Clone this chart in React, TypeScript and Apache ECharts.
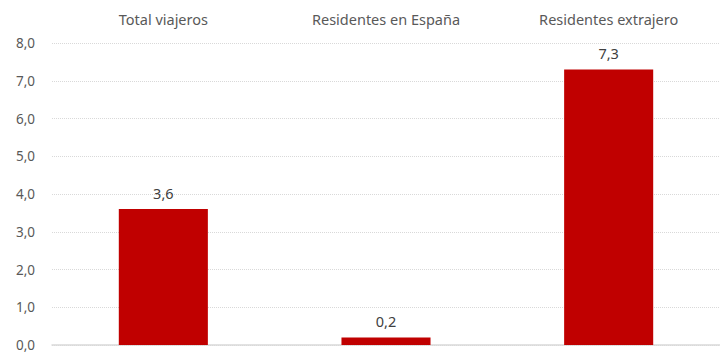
import React, { useEffect, useRef } from "react";
import * as echarts from "echarts";

const categories = ["Total viajeros", "Residentes en España", "Residentes extrajero"];
const values = [3.6, 0.2, 7.3];
const yTicks = { min: 0, max: 8, interval: 1 };

const fmt = (v: number) => v.toFixed(1).replace(".", ",");

export default function App() {
  const ref = useRef<HTMLDivElement>(null);
  useEffect(() => {
    if (!ref.current) return;
    const chart = echarts.init(ref.current, null, { renderer: "svg" });
    const font = "'Noto Sans', sans-serif";
    chart.setOption({
      animation: false,
      grid: { left: 52, right: -4, top: 43, bottom: 8, containLabel: false },
      xAxis: [
        {
          type: "category",
          data: categories,
          position: "top",
          axisLine: { show: false },
          axisTick: { show: false },
          axisLabel: { color: "#595959", fontSize: 14.5, fontFamily: font, margin: 17 },
        },
        {
          type: "category",
          data: categories,
          position: "bottom",
          axisLine: { show: true, lineStyle: { color: "#d9d9d9", width: 1.5 } },
          axisTick: { show: false },
          axisLabel: { show: false },
        },
      ],
      yAxis: {
        type: "value",
        min: yTicks.min,
        max: yTicks.max,
        interval: yTicks.interval,
        axisLine: { show: false },
        axisTick: { show: false },
        axisLabel: {
          color: "#595959",
          fontSize: 13.5,
          lineHeight: 13,
          fontFamily: font,
          margin: 17,
          formatter: (v: number) => fmt(v),
        },
        splitLine: { lineStyle: { color: "#d9d9d9", type: [1, 1], width: 1 } },
      },
      series: [
        {
          type: "bar",
          data: values,
          barWidth: "40%",
          itemStyle: { color: "#C00000" },
          label: {
            show: true,
            position: "top",
            distance: 9,
            color: "#404040",
            fontSize: 14.5,
            fontFamily: font,
            formatter: (p: any) => fmt(p.value),
          },
        },
      ],
    });
    return () => chart.dispose();
  }, []);
  return (
    <div
      ref={ref}
      style={{ position: "absolute", left: 0, top: 0, width: 720, height: 353, background: "#fff" }}
    />
  );
}
